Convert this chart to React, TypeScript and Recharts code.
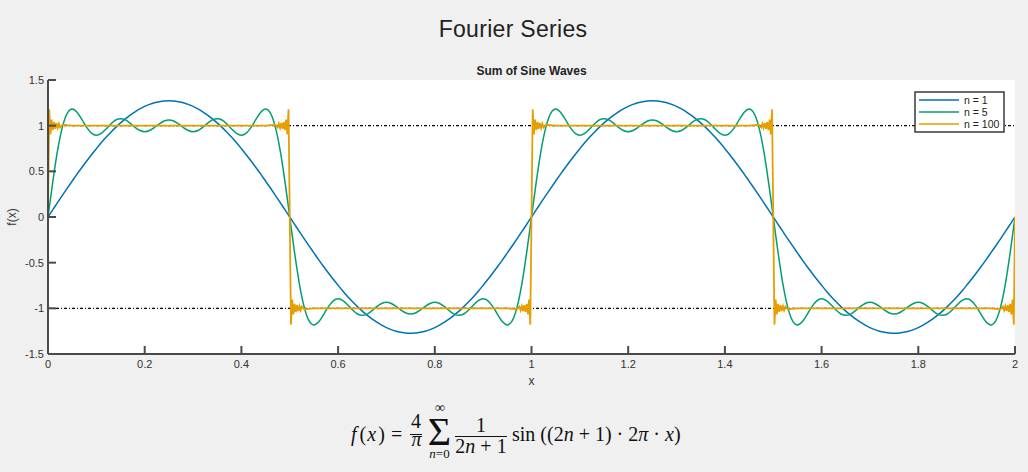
import React from 'react';
import { LineChart, Line, XAxis, YAxis, ReferenceLine } from 'recharts';

const xTicks = [0, 0.2, 0.4, 0.6, 0.8, 1, 1.2, 1.4, 1.6, 1.8, 2];
const yTicks = [-1.5, -1, -0.5, 0, 0.5, 1, 1.5];
const refLevels = [1, -1];

// samples every 0.01 from x = 0 to x = 2
const n1Values = [
  0,
  0.080, 0.160, 0.239, 0.317, 0.393, 0.469, 0.542, 0.613, 0.682, 0.748, 0.812, 0.872, 0.928, 0.981, 1.030, 1.075, 1.116, 1.152, 1.184, 1.211, 1.233, 1.251, 1.263, 1.271, 1.273,
  1.271, 1.263, 1.251, 1.233, 1.211, 1.184, 1.152, 1.116, 1.075, 1.030, 0.981, 0.928, 0.872, 0.812, 0.748, 0.682, 0.613, 0.542, 0.469, 0.393, 0.317, 0.239, 0.160, 0.080, 0,
  -0.080, -0.160, -0.239, -0.317, -0.393, -0.469, -0.542, -0.613, -0.682, -0.748, -0.812, -0.872, -0.928, -0.981, -1.030, -1.075, -1.116, -1.152, -1.184, -1.211, -1.233, -1.251, -1.263, -1.271, -1.273,
  -1.271, -1.263, -1.251, -1.233, -1.211, -1.184, -1.152, -1.116, -1.075, -1.030, -0.981, -0.928, -0.872, -0.812, -0.748, -0.682, -0.613, -0.542, -0.469, -0.393, -0.317, -0.239, -0.160, -0.080, 0,
  0.080, 0.160, 0.239, 0.317, 0.393, 0.469, 0.542, 0.613, 0.682, 0.748, 0.812, 0.872, 0.928, 0.981, 1.030, 1.075, 1.116, 1.152, 1.184, 1.211, 1.233, 1.251, 1.263, 1.271, 1.273,
  1.271, 1.263, 1.251, 1.233, 1.211, 1.184, 1.152, 1.116, 1.075, 1.030, 0.981, 0.928, 0.872, 0.812, 0.748, 0.682, 0.613, 0.542, 0.469, 0.393, 0.317, 0.239, 0.160, 0.080, 0,
  -0.080, -0.160, -0.239, -0.317, -0.393, -0.469, -0.542, -0.613, -0.682, -0.748, -0.812, -0.872, -0.928, -0.981, -1.030, -1.075, -1.116, -1.152, -1.184, -1.211, -1.233, -1.251, -1.263, -1.271, -1.273,
  -1.271, -1.263, -1.251, -1.233, -1.211, -1.184, -1.152, -1.116, -1.075, -1.030, -0.981, -0.928, -0.872, -0.812, -0.748, -0.682, -0.613, -0.542, -0.469, -0.393, -0.317, -0.239, -0.160, -0.080, 0,
];

const n5Values = [
  0,
  0.391, 0.734, 0.989, 1.137, 1.182, 1.147, 1.068, 0.981, 0.918, 0.896, 0.915, 0.963, 1.019, 1.062, 1.077, 1.063, 1.026, 0.981, 0.947, 0.934, 0.947, 0.979, 1.019, 1.051, 1.063,
  1.051, 1.019, 0.979, 0.947, 0.934, 0.947, 0.981, 1.026, 1.063, 1.077, 1.062, 1.019, 0.963, 0.915, 0.896, 0.918, 0.981, 1.068, 1.147, 1.182, 1.137, 0.989, 0.734, 0.391, 0,
  -0.391, -0.734, -0.989, -1.137, -1.182, -1.147, -1.068, -0.981, -0.918, -0.896, -0.915, -0.963, -1.019, -1.062, -1.077, -1.063, -1.026, -0.981, -0.947, -0.934, -0.947, -0.979, -1.019, -1.051, -1.063,
  -1.051, -1.019, -0.979, -0.947, -0.934, -0.947, -0.981, -1.026, -1.063, -1.077, -1.062, -1.019, -0.963, -0.915, -0.896, -0.918, -0.981, -1.068, -1.147, -1.182, -1.137, -0.989, -0.734, -0.391, 0,
  0.391, 0.734, 0.989, 1.137, 1.182, 1.147, 1.068, 0.981, 0.918, 0.896, 0.915, 0.963, 1.019, 1.062, 1.077, 1.063, 1.026, 0.981, 0.947, 0.934, 0.947, 0.979, 1.019, 1.051, 1.063,
  1.051, 1.019, 0.979, 0.947, 0.934, 0.947, 0.981, 1.026, 1.063, 1.077, 1.062, 1.019, 0.963, 0.915, 0.896, 0.918, 0.981, 1.068, 1.147, 1.182, 1.137, 0.989, 0.734, 0.391, 0,
  -0.391, -0.734, -0.989, -1.137, -1.182, -1.147, -1.068, -0.981, -0.918, -0.896, -0.915, -0.963, -1.019, -1.062, -1.077, -1.063, -1.026, -0.981, -0.947, -0.934, -0.947, -0.979, -1.019, -1.051, -1.063,
  -1.051, -1.019, -0.979, -0.947, -0.934, -0.947, -0.981, -1.026, -1.063, -1.077, -1.062, -1.019, -0.963, -0.915, -0.896, -0.918, -0.981, -1.068, -1.147, -1.182, -1.137, -0.989, -0.734, -0.391, 0,
];

// n = 100: dense around the jumps (Gibbs ripple), sparse on the flat parts
const n100X = [
  0, 0.0025, 0.005, 0.0075, 0.01, 0.0125, 0.015, 0.0175, 0.02, 0.0225, 0.025, 0.03, 0.05, 0.25, 0.45, 0.47, 0.475, 0.4775, 0.48, 0.4825, 0.485, 0.4875, 0.49, 0.4925, 0.495, 0.4975,
  0.5, 0.5025, 0.505, 0.5075, 0.51, 0.5125, 0.515, 0.5175, 0.52, 0.5225, 0.525, 0.53, 0.55, 0.75, 0.95, 0.97, 0.975, 0.9775, 0.98, 0.9825, 0.985, 0.9875, 0.99, 0.9925, 0.995, 0.9975,
  1, 1.0025, 1.005, 1.0075, 1.01, 1.0125, 1.015, 1.0175, 1.02, 1.0225, 1.025, 1.03, 1.05, 1.25, 1.45, 1.47, 1.475, 1.4775, 1.48, 1.4825, 1.485, 1.4875, 1.49, 1.4925, 1.495, 1.4975,
  1.5, 1.5025, 1.505, 1.5075, 1.51, 1.5125, 1.515, 1.5175, 1.52, 1.5225, 1.525, 1.53, 1.55, 1.75, 1.95, 1.97, 1.975, 1.9775, 1.98, 1.9825, 1.985, 1.9875, 1.99, 1.9925, 1.995, 1.9975,
  2,
];
const n100Y = [
  0, 1.179, 0.903, 1.066, 0.950, 1.040, 0.966, 1.029, 0.975, 1.022, 0.981, 1.010, 1, 1, 1, 1.010, 0.981, 1.022, 0.975, 1.029, 0.966, 1.040, 0.950, 1.066, 0.903, 1.179,
  0, -1.179, -0.903, -1.066, -0.950, -1.040, -0.966, -1.029, -0.975, -1.022, -0.981, -1.010, -1, -1, -1, -1.010, -0.981, -1.022, -0.975, -1.029, -0.966, -1.040, -0.950, -1.066, -0.903, -1.179,
  0, 1.179, 0.903, 1.066, 0.950, 1.040, 0.966, 1.029, 0.975, 1.022, 0.981, 1.010, 1, 1, 1, 1.010, 0.981, 1.022, 0.975, 1.029, 0.966, 1.040, 0.950, 1.066, 0.903, 1.179,
  0, -1.179, -0.903, -1.066, -0.950, -1.040, -0.966, -1.029, -0.975, -1.022, -0.981, -1.010, -1, -1, -1, -1.010, -0.981, -1.022, -0.975, -1.029, -0.966, -1.040, -0.950, -1.066, -0.903, -1.179,
  0,
];

const series = [
  { key: 'n1', name: 'n = 1', color: '#0072B2' },
  { key: 'n5', name: 'n = 5', color: '#009E73' },
  { key: 'n100', name: 'n = 100', color: '#E69F00' },
];

const gridData = n1Values.map((v, i) => ({ x: i / 100, n1: v, n5: n5Values[i] }));
const fineData = n100X.map((x, i) => ({ x, n100: n100Y[i] }));

const W = 1028;
const H = 472;
const PLOT = { left: 48, top: 80, right: 1015, bottom: 354 };
const AXIS = '#4a4a4a';
const SANS = '"Liberation Sans", Arial, Helvetica, sans-serif';
const SERIF = '"Liberation Serif", "Times New Roman", "DejaVu Serif", serif';

const XTick = (props: any) => {
  const { x, y, payload } = props;
  return (
    <g>
      <line x1={x} x2={x} y1={PLOT.bottom} y2={PLOT.bottom - 8} stroke={AXIS} strokeWidth={2} />
      <text x={x} y={y} dy="0.71em" textAnchor="middle" fontSize={11} fontFamily={SANS} fill="#333">
        {String(payload.value)}
      </text>
    </g>
  );
};

const YTick = (props: any) => {
  const { x, y, payload } = props;
  return (
    <g>
      <line x1={PLOT.left} x2={PLOT.left + 8} y1={y} y2={y} stroke={AXIS} strokeWidth={2} />
      <text x={x} y={y} dy="0.35em" textAnchor="end" fontSize={11} fontFamily={SANS} fill="#333">
        {String(payload.value)}
      </text>
    </g>
  );
};

function Legend() {
  const x0 = 915;
  const y0 = 92;
  return (
    <g>
      <rect x={x0} y={y0} width={89} height={40} fill="#fff" stroke="#3a3a3a" strokeWidth={1.5} />
      {series.map((s, i) => (
        <g key={s.key}>
          <line x1={x0 + 4} x2={x0 + 44} y1={y0 + 8 + i * 12} y2={y0 + 8 + i * 12} stroke={s.color} strokeWidth={1.5} />
          <text x={x0 + 49} y={y0 + 8 + i * 12} dy="0.35em" fontSize={10.5} fontFamily={SANS} fill="#222">
            {s.name}
          </text>
        </g>
      ))}
    </g>
  );
}

function Formula() {
  const it = { fontStyle: 'italic' as const };
  return (
    <g fontFamily={SERIF} fill="#111" fontSize={20}>
      <text x={351} y={441}>
        <tspan {...it}>f</tspan>
        <tspan dx={3}>(</tspan>
        <tspan dx={1} {...it}>x</tspan>
        <tspan dx={2}>)</tspan>
      </text>
      <text x={391} y={441}>=</text>
      <text x={416} y={428} textAnchor="middle">4</text>
      <line x1={410} x2={422} y1={434.5} y2={434.5} stroke="#111" strokeWidth={1} />
      <text x={416.5} y={446} textAnchor="middle" {...it}>π</text>
      <text x={440} y={412} textAnchor="middle" fontSize={14}>∞</text>
      <text x={439.5} y={445} textAnchor="middle" fontSize={40}>Σ</text>
      <text x={439.5} y={458} textAnchor="middle" fontSize={13}>
        <tspan {...it}>n</tspan>=0
      </text>
      <text x={481} y={432} textAnchor="middle">1</text>
      <line x1={455} x2={507} y1={436.5} y2={436.5} stroke="#111" strokeWidth={1} />
      <text x={481} y={453} textAnchor="middle">
        2<tspan {...it}>n</tspan> + 1
      </text>
      <text x={512} y={441}>
        sin ((2<tspan {...it}>n</tspan> + 1) · 2<tspan {...it}>π</tspan> · <tspan {...it}>x</tspan>)
      </text>
    </g>
  );
}

export default function App() {
  return (
    <div style={{ position: 'absolute', left: 0, top: 0, width: W, height: H, background: '#f0f0f0', overflow: 'hidden' }}>
      <div
        style={{
          position: 'absolute',
          left: PLOT.left,
          top: PLOT.top,
          width: PLOT.right - PLOT.left,
          height: PLOT.bottom - PLOT.top,
          background: '#fff',
        }}
      />
      <div style={{ position: 'absolute', left: 0, top: 0 }}>
        <LineChart
          width={W}
          height={H}
          data={gridData}
          margin={{ top: PLOT.top, right: W - PLOT.right, bottom: H - PLOT.bottom - 30, left: PLOT.left - 40 }}
        >
          <XAxis
            dataKey="x"
            type="number"
            domain={[0, 2]}
            ticks={xTicks}
            interval={0}
            height={30}
            tickSize={0}
            tickMargin={6}
            tickLine={false}
            axisLine={{ stroke: AXIS, strokeWidth: 2 }}
            tick={<XTick />}
            allowDataOverflow
          />
          <YAxis
            type="number"
            domain={[-1.5, 1.5]}
            ticks={yTicks}
            interval={0}
            width={40}
            tickSize={0}
            tickMargin={4}
            tickLine={false}
            axisLine={{ stroke: AXIS, strokeWidth: 2 }}
            tick={<YTick />}
            allowDataOverflow
          />
          {refLevels.map((v) => (
            <ReferenceLine key={v} y={v} stroke="#000" strokeWidth={1.3} strokeDasharray="3 2 1 2" />
          ))}
          <Line type="monotone" dataKey="n1" name={series[0].name} stroke={series[0].color} strokeWidth={1.5} dot={false} isAnimationActive={false} />
          <Line type="monotone" dataKey="n5" name={series[1].name} stroke={series[1].color} strokeWidth={1.5} dot={false} isAnimationActive={false} />
          <Line type="linear" data={fineData} dataKey="n100" name={series[2].name} stroke={series[2].color} strokeWidth={1.8} dot={false} isAnimationActive={false} />
        </LineChart>
      </div>
      <svg width={W} height={H} style={{ position: 'absolute', left: 0, top: 0, pointerEvents: 'none' }}>
        <text x={513} y={37} textAnchor="middle" fontSize={23} letterSpacing={0.3} fontFamily={SANS} fill="#222">
          Fourier Series
        </text>
        <text x={531.5} y={74.5} textAnchor="middle" fontSize={12} fontWeight="bold" fontFamily={SANS} fill="#222">
          Sum of Sine Waves
        </text>
        <text x={531.5} y={385} textAnchor="middle" fontSize={12} fontFamily={SANS} fill="#333">
          x
        </text>
        <text x={16} y={217} textAnchor="middle" fontSize={12} fontFamily={SANS} fill="#333" transform="rotate(-90 16 217)">
          f(x)
        </text>
        <Legend />
        <Formula />
      </svg>
    </div>
  );
}
